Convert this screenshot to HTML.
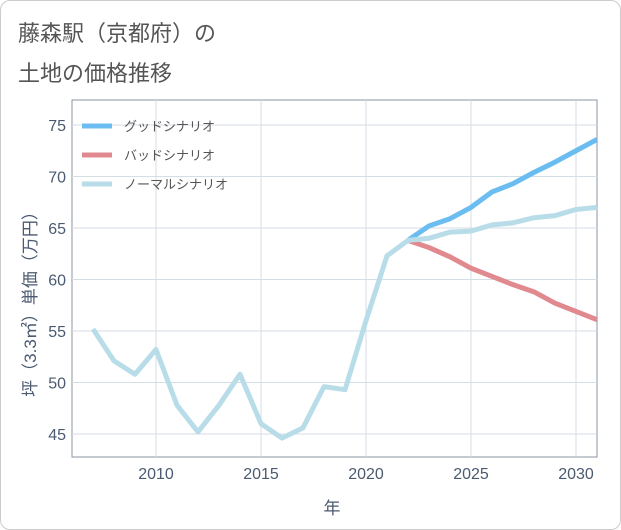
<!DOCTYPE html>
<html><head><meta charset="utf-8"><style>
body{margin:0;background:#fff;}
#card{position:absolute;left:0;top:0;width:619px;height:528px;border:1px solid #ccc;border-radius:10px;background:#fff;}
.t{position:absolute;left:18px;font:22px "Liberation Sans","Noto Sans CJK JP",sans-serif;color:#555;}
svg text{font-family:"Liberation Sans","Noto Sans CJK JP",sans-serif;}
</style></head><body>
<div id="card"></div>
<div class="t" style="top:16px">藤森駅（京都府）の</div>
<div class="t" style="top:56px">土地の価格推移</div>
<svg id="chart" width="621" height="530" style="position:absolute;left:0;top:0"></svg>
<script>
const years=[2007,2008,2009,2010,2011,2012,2013,2014,2015,2016,2017,2018,2019,2020,2021,2022,2023,2024,2025,2026,2027,2028,2029,2030,2031];
const normal=[55.2,52.1,50.8,53.2,47.8,45.2,47.8,50.8,46.0,44.6,45.6,49.6,49.3,56.0,62.3,63.8,64.0,64.6,64.7,65.3,65.5,66.0,66.2,66.8,67.0];
const futYears=[2022,2023,2024,2025,2026,2027,2028,2029,2030,2031];
const good=[63.8,65.2,65.9,67.0,68.5,69.3,70.4,71.4,72.5,73.6];
const bad=[63.8,63.1,62.2,61.1,60.3,59.5,58.8,57.7,56.9,56.1];
const xTicks=[2010,2015,2020,2025,2030];
const yTicks=[45,50,55,60,65,70,75];
const L=72,R=597,T=100,B=457;
const x=v=>156+(v-2010)*21;
const y=v=>434-(v-45)*10.3;
const svg=document.getElementById('chart');
const NS='http://www.w3.org/2000/svg';
function mk(tag,attrs,parent){const e=document.createElementNS(NS,tag);for(const k in attrs)e.setAttribute(k,attrs[k]);(parent||svg).appendChild(e);return e;}
const frame=mk('rect',{x:L,y:T,width:R-L,height:B-T,fill:'none',stroke:'#8a94a0','stroke-width':1});


xTicks.forEach(t=>{
 const g=mk('line',{x1:x(t),x2:x(t),y1:T,y2:B,stroke:'#d5dde5'});
 
 
 const tx=mk('text',{x:x(t),y:B+22,'text-anchor':'middle','font-size':16,fill:'#4a5a70'});
 tx.textContent=t;
 
 
});
yTicks.forEach(t=>{
 const g=mk('line',{x1:L,x2:R,y1:y(t),y2:y(t),stroke:'#d5dde5'});
 
 
 const tx=mk('text',{x:L-6,y:y(t)+6,'text-anchor':'end','font-size':16,fill:'#4a5a70'});
 tx.textContent=t;
 
 
});
function line(xs,ys,color,name){
 const p=mk('polyline',{points:xs.map((v,i)=>x(v)+','+y(ys[i])).join(' '),fill:'none',stroke:color,'stroke-width':5,'stroke-linejoin':'round'});
 
 
}
line(futYears,bad,'#e08a90','bad-scenario-line');
line(futYears,good,'#6bbcf0','good-scenario-line');
line(years,normal,'#b8dde9','normal-scenario-line');
const leg=[['グッドシナリオ','#6bbcf0'],['バッドシナリオ','#e08a90'],['ノーマルシナリオ','#b8dde9']];
leg.forEach((l,i)=>{
 const ly=126+i*29;
 const s=mk('line',{x1:82,x2:112,y1:ly,y2:ly,stroke:l[1],'stroke-width':5});
 
 
 const tx=mk('text',{x:124,y:ly+5,'font-size':13,fill:'#555'});
 tx.textContent=l[0];
 
 
});
const xt=mk('text',{x:332,y:514,'text-anchor':'middle','font-size':17,fill:'#4a5a70'});
xt.textContent='年';


const yt=mk('text',{x:0,y:0,'text-anchor':'middle','font-size':17,fill:'#4a5a70',transform:'translate(36,300) rotate(-90)'});
yt.textContent='坪（3.3㎡）単価（万円）';


</script>
</body></html>
